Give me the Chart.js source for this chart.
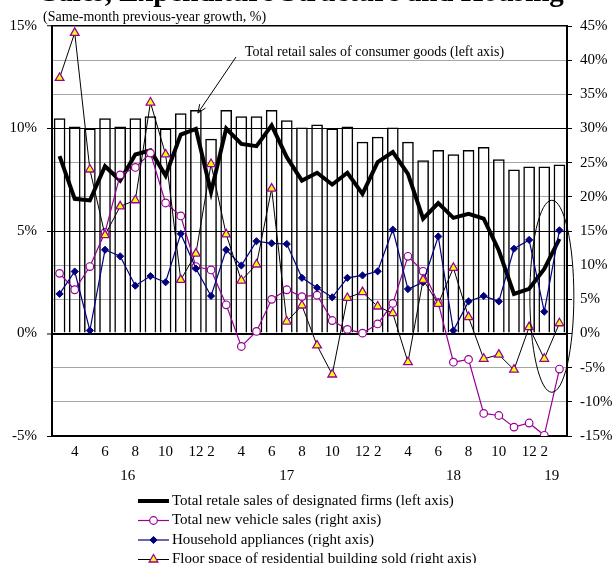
<!DOCTYPE html>
<html>
<head>
<meta charset="utf-8">
<script src="https://cdn.jsdelivr.net/npm/chart.js@4.4.1/dist/chart.umd.min.js"></script>
<style>
  html, body { margin: 0; padding: 0; background: #fff; }
  canvas { display: block; }
</style>
</head>
<body>
<canvas id="c" width="616" height="563"></canvas>
<script>
// Month of each observation (Jan and Feb are reported together as "2")
const months = [3,4,5,6,7,8,9,10,11,12,
                 2,3,4,5,6,7,8,9,10,11,12,
                 2,3,4,5,6,7,8,9,10,11,12,
                 2,3];
const years  = [16,16,16,16,16,16,16,16,16,16,
                17,17,17,17,17,17,17,17,17,17,17,
                18,18,18,18,18,18,18,18,18,18,18,
                19,19];

// Left axis, %
const retailTotal = [10.5,10.1,10.0,10.5,10.1,10.5,10.6,10.0,10.75,10.9,
                     9.5,10.9,10.6,10.6,10.9,10.4,10.05,10.2,10.0,10.1,9.35,
                     9.6,10.05,9.35,8.45,8.95,8.75,8.95,9.1,8.5,8.0,8.15,
                     8.15,8.25];
const designatedFirms = [8.65,6.57,6.49,8.16,7.46,8.73,8.93,7.7,9.7,9.98,
                         6.9,10.0,9.25,9.14,10.15,8.6,7.46,7.84,7.27,7.84,6.81,
                         8.36,8.85,7.79,5.6,6.36,5.64,5.84,5.6,4.05,1.93,2.18,
                         3.15,4.62];

// Right axis, %
const newVehicles = [8.8,6.4,9.8,14.8,23.2,24.3,26.4,19.1,17.2,9.8,
                     9.3,4.2,-1.9,0.3,5.0,6.4,5.4,5.6,1.9,0.6,0.05,
                     1.4,4.4,11.3,9.1,4.5,-4.2,-3.8,-11.7,-12.0,-13.7,-13.1,
                     -14.9,-5.2];
const appliances = [5.8,9.07,0.44,12.25,11.3,7.0,8.4,7.5,14.6,9.5,
                    5.5,12.25,9.95,13.5,13.2,13.1,8.15,6.7,5.3,8.15,8.5,
                    9.1,15.2,6.5,7.5,14.2,0.44,4.7,5.5,4.7,12.4,13.7,
                    3.2,15.1];
const floorSpace = [37.4,44.0,24.0,14.4,18.6,19.5,33.8,26.2,7.85,11.7,
                    24.8,14.5,7.75,10.1,21.2,1.75,4.1,-1.75,-6.0,5.2,6.05,
                    3.95,2.97,-4.2,7.85,4.35,9.6,2.4,-3.7,-3.1,-5.3,0.93,
                    -3.7,1.5];

const leftTicks  = { min: -5,  max: 15, step: 5 };
const rightTicks = { min: -15, max: 45, step: 5 };

const titleText    = 'Sales, Expenditure Structure and Housing';
const subtitleText = '(Same-month previous-year growth, %)';

const serif = '"Liberation Serif", "Times New Roman", Times, serif';
Chart.defaults.font.family = serif;
Chart.defaults.color = '#000';

const PURPLE = '#990099';
const NAVY = '#000080';

function drawMarker(ctx, style, x, y, r, fill, stroke, lw) {
  ctx.save();
  ctx.beginPath();
  if (style === 'circle') {
    ctx.arc(x, y, r, 0, Math.PI * 2);
  } else if (style === 'rectRot') {
    ctx.moveTo(x, y - r); ctx.lineTo(x + r, y); ctx.lineTo(x, y + r); ctx.lineTo(x - r, y);
    ctx.closePath();
  } else if (style === 'triangle') {
    ctx.moveTo(x, y - r);
    ctx.lineTo(x + 0.866 * r, y + 0.5 * r);
    ctx.lineTo(x - 0.866 * r, y + 0.5 * r);
    ctx.closePath();
  }
  ctx.fillStyle = fill;
  ctx.fill();
  if (lw) { ctx.lineWidth = lw; ctx.strokeStyle = stroke; ctx.stroke(); }
  ctx.restore();
}

const decor = {
  id: 'decor',
  afterDatasetsDraw(chart) {
    const { ctx, scales: { x, y2 } } = chart;
    // ellipse marking the latest two readings
    const n = months.length;
    const cx = (x.getPixelForValue(n - 2) + x.getPixelForValue(n - 1)) / 2;
    const top = y2.getPixelForValue(19.5), bottom = y2.getPixelForValue(-8.6);
    ctx.save();
    ctx.beginPath();
    ctx.ellipse(cx, (top + bottom) / 2, 22, (bottom - top) / 2, 0, 0, Math.PI * 2);
    ctx.lineWidth = 1;
    ctx.strokeStyle = '#000';
    ctx.stroke();
    ctx.restore();
  },
  afterDraw(chart) {
    const { ctx, scales: { x, y } } = chart;
    const ds = chart.data.datasets;
    ctx.save();

    // heading (runs off the top edge)
    ctx.font = 'bold 29px ' + serif;
    ctx.textAlign = 'left';
    ctx.textBaseline = 'alphabetic';
    ctx.fillStyle = '#000';
    ctx.fillText(titleText, 42, 1);

    // unit note
    ctx.font = '14px ' + serif;
    ctx.textBaseline = 'middle';
    ctx.fillText(subtitleText, 43, 17);

    // callout for the bar series
    ctx.fillText(ds[0].label, 245, 52);
    const tipX = x.getPixelForValue(9) + 2;
    const tipY = y.getPixelForValue(retailTotal[9]) + 3;
    const tailX = 236, tailY = 57;
    ctx.beginPath();
    ctx.moveTo(tailX, tailY);
    ctx.lineTo(tipX, tipY);
    const ang = Math.atan2(tipY - tailY, tipX - tailX);
    const hl = 9;
    ctx.moveTo(tipX - hl * Math.cos(ang - 0.4), tipY - hl * Math.sin(ang - 0.4));
    ctx.lineTo(tipX, tipY);
    ctx.lineTo(tipX - hl * Math.cos(ang + 0.4), tipY - hl * Math.sin(ang + 0.4));
    ctx.lineWidth = 1;
    ctx.strokeStyle = '#000';
    ctx.stroke();

    // year row under the month ticks
    ctx.font = '15px ' + serif;
    ctx.textAlign = 'center';
    const groups = {};
    years.forEach((yr, i) => { (groups[yr] = groups[yr] || []).push(i); });
    Object.keys(groups).forEach(yr => {
      const idx = groups[yr];
      const mid = (idx[0] + idx[idx.length - 1]) / 2;
      ctx.fillText(String(yr), x.getPixelForValue(mid), 476);
    });

    // legend for the line series
    ctx.textAlign = 'left';
    const lines = ds.slice(1);
    lines.forEach((d, i) => {
      const ly = 501 + i * 19.5;
      ctx.beginPath();
      ctx.moveTo(138, ly);
      ctx.lineTo(169, ly);
      ctx.lineWidth = d.borderWidth;
      ctx.strokeStyle = d.borderColor;
      ctx.stroke();
      if (d.pointRadius > 0) {
        drawMarker(ctx, d.pointStyle, 153.5, ly, d.pointRadius,
                   d.pointBackgroundColor, d.pointBorderColor, d.pointBorderWidth);
      }
      ctx.fillStyle = '#000';
      ctx.fillText(d.label, 172, ly);
    });
    ctx.restore();
  }
};

new Chart(document.getElementById('c'), {
  type: 'bar',
  data: {
    labels: months.map(String),
    datasets: [
      {
        type: 'bar',
        label: 'Total retail sales of consumer goods (left axis)',
        data: retailTotal,
        yAxisID: 'y',
        backgroundColor: 'rgba(255,255,255,0)',
        borderColor: '#000',
        borderWidth: 1.5,
        barPercentage: 0.77,
        categoryPercentage: 1,
        order: 10
      },
      {
        type: 'line',
        label: 'Total retale sales of designated firms (left axis)',
        data: designatedFirms,
        yAxisID: 'y',
        borderColor: '#000',
        borderWidth: 4,
        pointRadius: 0,
        tension: 0,
        order: 4
      },
      {
        type: 'line',
        label: 'Total new vehicle sales (right axis)',
        data: newVehicles,
        yAxisID: 'y2',
        borderColor: PURPLE,
        borderWidth: 1.2,
        pointStyle: 'circle',
        pointRadius: 3.8,
        pointBackgroundColor: '#fff',
        pointBorderColor: PURPLE,
        pointBorderWidth: 1.2,
        tension: 0,
        order: 3
      },
      {
        type: 'line',
        label: 'Household appliances (right axis)',
        data: appliances,
        yAxisID: 'y2',
        borderColor: NAVY,
        borderWidth: 1.2,
        pointStyle: 'rectRot',
        pointRadius: 3.6,
        pointBackgroundColor: NAVY,
        pointBorderColor: NAVY,
        pointBorderWidth: 1,
        tension: 0,
        order: 2
      },
      {
        type: 'line',
        label: 'Floor space of residential building sold (right axis)',
        data: floorSpace,
        yAxisID: 'y2',
        borderColor: '#000',
        borderWidth: 1,
        pointStyle: 'triangle',
        pointRadius: 5,
        pointBackgroundColor: '#ffff00',
        pointBorderColor: PURPLE,
        pointBorderWidth: 1.3,
        tension: 0,
        order: 1
      }
    ]
  },
  options: {
    responsive: false,
    animation: false,
    devicePixelRatio: 1,
    layout: { padding: { top: 26, left: 0, right: 0, bottom: 0 } },
    plugins: { legend: { display: false }, tooltip: { enabled: false } },
    scales: {
      x: {
        offset: true,
        grid: { display: false, drawTicks: false },
        border: { display: true, color: '#000', width: 2 },
        ticks: {
          autoSkip: false, maxRotation: 0, minRotation: 0, padding: 7,
          font: { size: 15 }, color: '#000',
          callback: (v, i) => (months[i] % 2 === 0 ? String(months[i]) : '')
        },
        afterFit: s => { s.height = 127; }
      },
      y: {
        position: 'left',
        min: leftTicks.min, max: leftTicks.max,
        ticks: { stepSize: leftTicks.step, padding: 10, font: { size: 15 }, color: '#000',
                 callback: v => v + '%' },
        grid: {
          color: '#000',
          lineWidth: c => (c.tick && c.tick.value === 0 ? 2 : (c.tick && c.tick.value === leftTicks.max ? 1.5 : 1)),
          tickLength: 5, tickColor: '#000', tickWidth: 1
        },
        border: { color: '#000', width: 2 },
        afterFit: s => { s.width = 52; }
      },
      y2: {
        position: 'right',
        min: rightTicks.min, max: rightTicks.max,
        ticks: { stepSize: rightTicks.step, padding: 8, font: { size: 15 }, color: '#000',
                 callback: v => v + '%' },
        grid: {
          color: c => (c.tick && c.tick.value % 15 === 0 ? 'rgba(0,0,0,0)' : '#a6a6a6'),
          lineWidth: 1,
          tickLength: 5, tickColor: '#000', tickWidth: 1
        },
        border: { color: '#000', width: 2 },
        afterFit: s => { s.width = 49; }
      }
    }
  },
  plugins: [decor]
});
</script>
</body>
</html>
